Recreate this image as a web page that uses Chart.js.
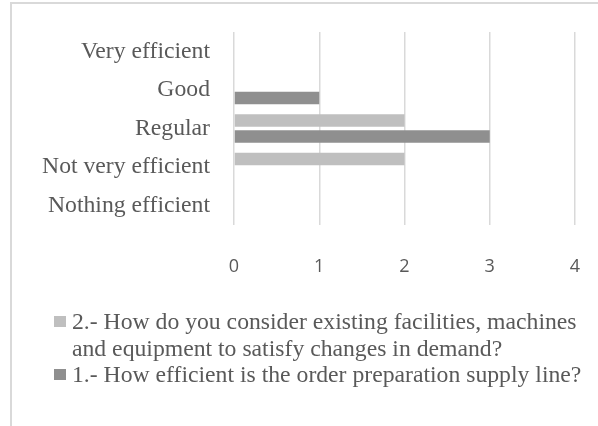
<!DOCTYPE html>
<html lang="en">
<head>
    <meta charset="UTF-8">
    <title>Order preparation survey</title>
    <script src="https://cdn.jsdelivr.net/npm/chart.js"></script>
    <style>
        html, body { margin: 0; padding: 0; background: #fff; }
        #wrap { position: relative; width: 598px; height: 426px; overflow: hidden; }
        #frame {
            position: absolute; left: 10px; top: 2px; right: -4px; bottom: -4px;
            border-left: 2px solid #d9d9d9; border-top: 2px solid #d9d9d9;
        }
        #chartBox { position: absolute; left: 0; top: 0; width: 598px; height: 426px; }
    </style>
</head>
<body>
<div id="wrap">
    <div id="frame"></div>
    <div id="chartBox"><canvas id="surveyChart"></canvas></div>
</div>

<script>
    // answer categories, top to bottom
    const categories = ["Very efficient", "Good", "Regular", "Not very efficient", "Nothing efficient"];

    // question 2 (light bars) and question 1 (dark bars)
    const q2Values = [0, 0, 2, 2, 0];
    const q1Values = [0, 1, 3, 0, 0];

    const q2Label = ["2.- How do you consider existing facilities, machines", "and equipment to satisfy changes in demand?"];
    const q1Label = ["1.- How efficient is the order preparation supply line?"];

    const xTicks = [0, 1, 2, 3, 4];

    const serif = "'Liberation Serif', 'Times New Roman', serif";

    // legend drawn under the axis, lines wrapped like the original
    const legendBelow = {
        id: "legendBelow",
        afterDraw(chart) {
            const ctx = chart.ctx;
            ctx.save();
            ctx.font = "23.7px " + serif;
            ctx.textBaseline = "alphabetic";
            ctx.textAlign = "left";
            let baseline = 329;
            chart.data.datasets.forEach(ds => {
                ctx.fillStyle = ds.backgroundColor;
                ctx.fillRect(54, baseline - 13, 12, 11);
                ctx.fillStyle = "#595959";
                ds.legendLines.forEach(line => {
                    ctx.fillText(line, 72, baseline);
                    baseline += 26.5;
                });
            });
            ctx.restore();
        }
    };

    // keep the tick label padding from shrinking the plot area
    function noEdgePadding(axis) {
        axis.paddingTop = 0;
        axis.paddingBottom = 0;
        axis.paddingLeft = 0;
        axis.paddingRight = 0;
    }

    document.addEventListener("DOMContentLoaded", () => {
        const ctx = document.getElementById("surveyChart").getContext("2d");

        new Chart(ctx, {
            type: "bar",
            data: {
                labels: categories,
                datasets: [
                    {
                        label: q2Label.join(" "),
                        legendLines: q2Label,
                        data: q2Values,
                        backgroundColor: "#bfbfbf",
                        categoryPercentage: 0.83,
                        barPercentage: 0.78
                    },
                    {
                        label: q1Label.join(" "),
                        legendLines: q1Label,
                        data: q1Values,
                        backgroundColor: "#8f8f8f",
                        categoryPercentage: 0.83,
                        barPercentage: 0.78
                    }
                ]
            },
            options: {
                indexAxis: "y",
                responsive: true,
                maintainAspectRatio: false,
                animation: false,
                layout: { padding: { left: 0, right: 23, top: 32, bottom: 141 } },
                plugins: {
                    legend: { display: false },
                    tooltip: { enabled: false }
                },
                scales: {
                    x: {
                        min: xTicks[0],
                        max: xTicks[xTicks.length - 1],
                        afterBuildTicks: axis => { axis.ticks = xTicks.map(v => ({ value: v })); },
                        afterFit: axis => { axis.height = 60; noEdgePadding(axis); },
                        border: { display: false },
                        grid: { color: "#d9d9d9", lineWidth: 1.5, drawTicks: false },
                        ticks: {
                            color: "#595959",
                            padding: 31,
                            font: { family: "'Open Sans', sans-serif", size: 18 }
                        }
                    },
                    y: {
                        afterFit: axis => { axis.width = 234; noEdgePadding(axis); },
                        border: { display: false },
                        grid: { display: false, drawTicks: false },
                        ticks: {
                            color: "#595959",
                            padding: 24,
                            font: { family: serif, size: 23.7 }
                        }
                    }
                }
            },
            plugins: [legendBelow]
        });
    });
</script>
</body>
</html>
